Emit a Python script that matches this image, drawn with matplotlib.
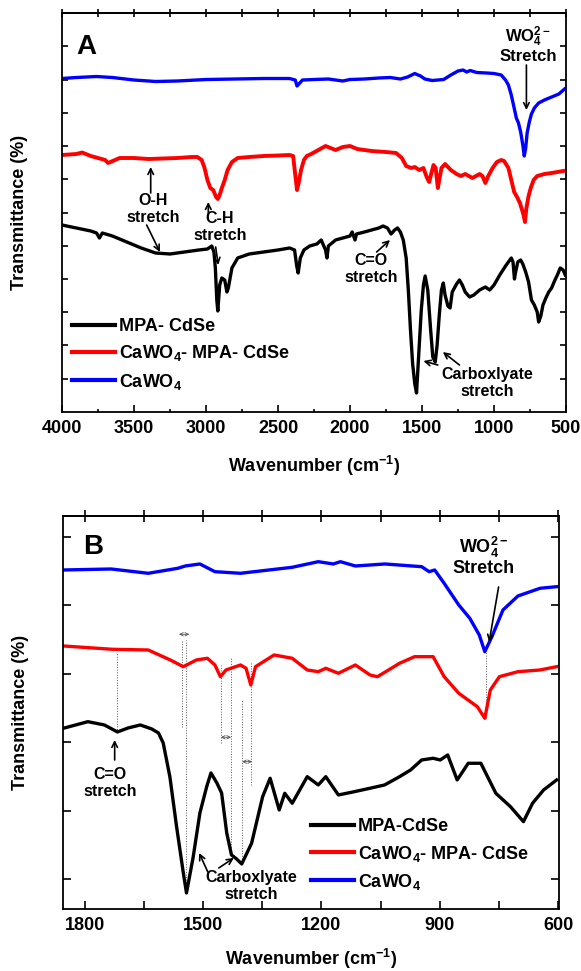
import numpy as np
import matplotlib.pyplot as plt
from matplotlib.ticker import MultipleLocator, NullFormatter

plt.rcParams['font.family'] = ['Liberation Sans', 'DejaVu Sans']
plt.rcParams['font.weight'] = 'bold'
plt.rcParams['axes.labelweight'] = 'bold'
plt.rcParams['mathtext.fontset'] = 'custom'
plt.rcParams['mathtext.rm'] = 'Liberation Sans:bold'
plt.rcParams['mathtext.bf'] = 'Liberation Sans:bold'
plt.rcParams['mathtext.it'] = 'Liberation Sans:bold'
plt.rcParams['mathtext.default'] = 'bf'
plt.rcParams['axes.linewidth'] = 1.3

# ---- panel A : 4000-500 cm-1 (transmittance, arb. units) ----
wn_a_blk = [4000, 3900, 3800, 3760, 3740, 3720, 3650, 3550, 3450, 3350, 3250, 3150, 3050, 2990, 2960,
            2945, 2935, 2925, 2918, 2905, 2890, 2870, 2855, 2845, 2820, 2780, 2700, 2600, 2500, 2420,
            2385, 2370, 2360, 2345, 2320, 2280, 2230, 2200, 2170, 2160, 2150, 2100, 2050, 2000, 1985,
            1965, 1955, 1900, 1850, 1800, 1770, 1740, 1715, 1690, 1670, 1650, 1630, 1610, 1595, 1580,
            1565, 1550, 1538, 1525, 1505, 1490, 1478, 1460, 1440, 1425, 1408, 1395, 1380, 1365, 1352,
            1340, 1320, 1305, 1290, 1260, 1240, 1220, 1200, 1170, 1140, 1100, 1060, 1030, 1000, 960,
            920, 900, 880, 868, 858, 850, 835, 815, 800, 780, 760, 740, 720, 700, 690,
            675, 660, 640, 620, 600, 580, 560, 540, 520, 505]
t_a_blk = [187, 184, 181, 179, 174, 179, 176, 170, 164, 159, 158, 160, 162, 163, 166,
           160, 144, 112, 101, 127, 134, 132, 120, 124, 144, 154, 158, 160, 162, 164,
           162, 146, 139, 154, 162, 166, 168, 172, 162, 154, 166, 172, 174, 176, 180,
           172, 178, 180, 182, 184, 186, 184, 178, 182, 184, 180, 172, 154, 122, 82,
           48, 28, 19, 52, 102, 127, 136, 122, 82, 55, 50, 67, 97, 122, 129,
           117, 106, 104, 120, 128, 132, 127, 120, 115, 117, 122, 125, 122, 127, 137,
           146, 150, 154, 150, 133, 140, 150, 152, 148, 140, 130, 112, 107, 100, 90,
           96, 107, 114, 120, 124, 131, 137, 144, 142, 137]

wn_a_red = [4000, 3900, 3860, 3800, 3700, 3680, 3600, 3500, 3400, 3300, 3200, 3100, 3060, 3030, 3010,
            2990, 2970, 2950, 2930, 2918, 2905, 2890, 2870, 2850, 2820, 2780, 2700, 2600, 2500, 2420,
            2395, 2380, 2368, 2355, 2340, 2320, 2300, 2270, 2220, 2170, 2100, 2050, 2000, 1950, 1900,
            1850, 1750, 1680, 1640, 1610, 1575, 1550, 1520, 1490, 1465, 1450, 1440, 1420, 1405, 1390,
            1380, 1365, 1340, 1300, 1260, 1230, 1200, 1150, 1100, 1080, 1060, 1040, 1010, 980, 950,
            930, 900, 880, 860, 840, 820, 805, 795, 785, 775, 760, 745, 725, 700, 650,
            600, 560, 520]
t_a_red = [257, 258, 259.5, 256, 252, 249, 254, 254, 253, 253.5, 254, 255, 255, 252, 244,
           232, 224, 222, 215, 213, 217, 224, 232, 242, 250, 254, 255, 256, 256.5, 257,
           256, 237, 222, 230, 242, 252, 256, 258, 262, 266, 262, 265, 266, 263, 262,
           261, 260, 259, 254, 246, 244, 245, 242, 244, 234, 230, 236, 247, 244, 224,
           232, 244, 248, 242, 238, 236, 238, 234, 238, 236, 229, 236, 244, 250, 252,
           251, 244, 232, 220, 215, 209, 202, 197, 190, 204, 216, 224, 232, 236, 238,
           239, 240, 241]

wn_a_blu = [4000, 3900, 3760, 3650, 3500, 3350, 3200, 3000, 2800, 2600, 2420, 2380, 2368, 2355, 2330,
            2250, 2150, 2050, 2000, 1900, 1800, 1720, 1650, 1600, 1550, 1535, 1510, 1480, 1430, 1350,
            1300, 1250, 1215, 1190, 1165, 1120, 1050, 1000, 950, 920, 900, 880, 860, 845, 830,
            815, 800, 790, 780, 770, 755, 740, 720, 690, 650, 600, 550, 510]
t_a_blu = [333.5, 334.5, 335.5, 334.5, 332, 330.5, 331, 332.5, 333, 333.5, 333.5, 332, 326, 328, 332,
           332.5, 333, 331, 332.5, 333, 334, 334.5, 333, 335, 338.5, 337.5, 336, 333, 331.5, 332.5,
           337, 341, 342, 340, 341.5, 339.5, 339, 338.5, 337, 332, 327, 317, 304, 294, 289,
           280, 267, 256, 264, 279, 290, 298, 304, 309, 312, 315, 318, 323]

# ---- panel B : 1855-600 cm-1 ----
wn_b_blk = [1854, 1792, 1750, 1717, 1690, 1659, 1630, 1613, 1601, 1584, 1567, 1550, 1542, 1525, 1508,
            1491, 1480, 1465, 1453, 1440, 1428, 1415, 1402, 1377, 1349, 1330, 1307, 1293, 1274, 1236,
            1208, 1189, 1157, 1120, 1077, 1040, 1002, 974, 946, 917, 899, 880, 856, 828, 796,
            758, 721, 688, 665, 637, 604]
t_b_blk = [180.7, 187.3, 184, 177, 181, 184, 180, 176, 166, 132, 82, 36, 16, 52, 96,
           122, 136, 126, 116, 76, 54, 50, 45, 65.7, 112.3, 130.7, 99, 115.7, 105.7, 132.3,
           124, 132.3, 114, 117, 120.7, 124, 132.3, 139, 149, 150.7, 149, 154, 129, 145.7, 145.7,
           115.7, 102.3, 87.3, 105.7, 119, 129]

wn_b_red = [1854, 1730, 1639, 1583, 1550, 1517, 1489, 1470, 1456, 1442, 1405, 1391, 1379, 1367, 1320,
            1274, 1236, 1208, 1189, 1157, 1114, 1077, 1058, 1002, 964, 917, 889, 852, 805, 786,
            772, 749, 702, 646, 604]
t_b_red = [263, 259.7, 259, 249, 242.3, 249, 250.7, 244, 232.3, 239, 244, 240.7, 224, 242.3, 254,
           250.7, 239, 237.3, 240.7, 235.7, 244, 234, 232.3, 245.7, 252.3, 252.3, 232.3, 215.7, 202.3, 190.7,
           219, 232.3, 237.3, 239, 242.3]

wn_b_blu = [1854, 1733, 1639, 1564, 1545, 1508, 1470, 1405, 1274, 1208, 1170, 1152, 1114, 1039, 946,
            927, 913, 889, 852, 824, 800, 786, 768, 740, 702, 646, 604]
t_b_blu = [339, 340, 335.7, 340.7, 343, 345, 337.3, 335.7, 341.7, 347.3, 345, 347.3, 343, 345, 342.3,
           337.3, 339, 325.7, 304, 290.7, 274, 257.3, 272.3, 299, 313, 320.7, 322.3]

labels_a = ['MPA- CdSe', 'CaWO$_4$- MPA- CdSe', 'CaWO$_4$']
labels_b = ['MPA-CdSe', 'CaWO$_4$- MPA- CdSe', 'CaWO$_4$']
colors = ['black', 'red', 'blue']

# peak guide lines in B: wavenumber, top, bottom
guide_wn = [1717, 1554, 1544, 1455, 1429, 1401, 1379, 784]
guide_top = [257, 269, 269, 244, 250.7, 209, 247.3, 257.3]
guide_bot = [177, 182.3, 16, 165.7, 54, 45, 124, 191]
# double arrows showing the shifts
shift_from = [1561, 1455, 1401]
shift_to = [1535, 1429, 1376]
shift_y = [274.7, 171.7, 147.3]

fig = plt.figure(figsize=(5.81, 9.71), dpi=100)
axA = fig.add_axes([0.1067, 0.5757, 0.8675, 0.4109])
axB = fig.add_axes([0.1084, 0.0639, 0.8537, 0.4047])

arr = dict(arrowstyle='->', lw=1.2, color='black', shrinkA=0, shrinkB=0)

# ---------------- A ----------------
axA.plot(wn_a_blk, t_a_blk, color=colors[0], lw=2.4, label=labels_a[0])
axA.plot(wn_a_red, t_a_red, color=colors[1], lw=2.8, label=labels_a[1])
axA.plot(wn_a_blu, t_a_blu, color=colors[2], lw=2.4, label=labels_a[2])
axA.set_xlim(4000, 500)
axA.set_ylim(0, 399)
axA.xaxis.set_major_locator(MultipleLocator(500))
axA.xaxis.set_minor_locator(MultipleLocator(250))
axA.set_yticks(np.arange(1, 12) * 33.25)
axA.yaxis.set_major_formatter(NullFormatter())
axA.tick_params(axis='x', which='major', direction='in', length=5, width=1.2, labelsize=13, pad=6)
axA.tick_params(axis='x', which='minor', direction='in', length=2.5, width=1.2)
axA.tick_params(axis='y', direction='in', length=4, width=1.2, right=True)
secA = axA.secondary_xaxis('top')
secA.xaxis.set_major_locator(MultipleLocator(250))
secA.tick_params(direction='inout', length=6, width=1.2, labeltop=False)
axA.set_xlabel('Wavenumber (cm$^{-1}$)', fontsize=13, labelpad=12)
axA.set_ylabel('Transmittance (%)', fontsize=13, labelpad=21)

axA.text(3830, 365, 'A', fontsize=20, ha='center', va='center')
axA.text(765, 368, 'WO$_4^{2-}$\nStretch', fontsize=12, ha='center', va='center', linespacing=1.0)
axA.annotate('', xy=(775, 302), xytext=(775, 347), arrowprops=arr)
axA.text(3370, 203, 'O-H\nstretch', fontsize=11.5, ha='center', va='center', linespacing=1.15)
axA.annotate('', xy=(3384, 245), xytext=(3384, 219), arrowprops=arr)
axA.annotate('', xy=(3320, 160), xytext=(3412, 187), arrowprops=arr)
axA.text(2903, 185, 'C-H\nstretch', fontsize=11.5, ha='center', va='center', linespacing=1.15)
axA.annotate('', xy=(2984, 210), xytext=(2984, 199), arrowprops=arr)
axA.annotate('', xy=(2915, 147), xytext=(2933, 165), arrowprops=arr)
axA.text(1854, 143, 'C=O\nstretch', fontsize=11.5, ha='center', va='center', linespacing=1.15)
axA.annotate('', xy=(1722, 172), xytext=(1815, 160), arrowprops=arr)
axA.text(1049, 29, 'Carboxlyate\nstretch', fontsize=11.5, ha='center', va='center', linespacing=1.15)
axA.annotate('', xy=(1490, 51), xytext=(1390, 47), arrowprops=arr)
axA.annotate('', xy=(1355, 60), xytext=(1240, 47), arrowprops=arr)
axA.legend(loc='center left', bbox_to_anchor=(0.02, 0.143), frameon=False, fontsize=13,
           handlelength=2.4, handletextpad=0.2, labelspacing=0.45, borderpad=0, borderaxespad=0)
for ln in axA.get_legend().get_lines():
    ln.set_linewidth(3)

# ---------------- B ----------------
for k in range(len(guide_wn)):
    axB.plot([guide_wn[k], guide_wn[k]], [guide_bot[k], guide_top[k]], color='0.35', lw=0.7, ls=':')
for k in range(len(shift_from)):
    axB.annotate('', xy=(shift_to[k], shift_y[k]), xytext=(shift_from[k], shift_y[k]),
                 arrowprops=dict(arrowstyle='<->', lw=0.6, color='0.3', shrinkA=0, shrinkB=0,
                                 mutation_scale=6))
axB.plot(wn_b_blk, t_b_blk, color=colors[0], lw=2.4, label=labels_b[0])
axB.plot(wn_b_red, t_b_red, color=colors[1], lw=2.4, label=labels_b[1])
axB.plot(wn_b_blu, t_b_blu, color=colors[2], lw=2.4, label=labels_b[2])
axB.set_xlim(1855, 598)
axB.set_ylim(0, 393)
axB.xaxis.set_major_locator(MultipleLocator(300))
axB.xaxis.set_minor_locator(MultipleLocator(150))
axB.set_yticks(30 + np.arange(6) * 68.4)
axB.yaxis.set_major_formatter(NullFormatter())
axB.tick_params(axis='x', which='both', direction='in', length=6, width=1.2, labelsize=13, pad=6)
axB.tick_params(axis='y', direction='in', length=6, width=1.2, right=True)
secB = axB.secondary_xaxis('top')
secB.xaxis.set_major_locator(MultipleLocator(150))
secB.tick_params(direction='inout', length=8, width=1.2, labeltop=False)
axB.set_xlabel('Wavenumber (cm$^{-1}$)', fontsize=13, labelpad=9)
axB.set_ylabel('Transmittance (%)', fontsize=13, labelpad=21)

axB.text(1778, 362, 'B', fontsize=20, ha='center', va='center')
axB.text(789, 353, 'WO$_4^{2-}$\nStretch', fontsize=13, ha='center', va='center', linespacing=1.0)
axB.annotate('', xy=(775, 267), xytext=(751, 322), arrowprops=arr)
axB.text(1736, 126, 'C=O\nstretch', fontsize=11.5, ha='center', va='center', linespacing=1.15)
axB.annotate('', xy=(1724, 169), xytext=(1724, 149), arrowprops=arr)
axB.text(1379, 23, 'Carboxlyate\nstretch', fontsize=11.5, ha='center', va='center', linespacing=1.15)
axB.annotate('', xy=(1510, 56), xytext=(1488, 37), arrowprops=arr)
axB.annotate('', xy=(1422, 51), xytext=(1460, 41), arrowprops=arr)
axB.legend(loc='center left', bbox_to_anchor=(0.50, 0.137), frameon=False, fontsize=13,
           handlelength=2.4, handletextpad=0.2, labelspacing=0.45, borderpad=0, borderaxespad=0)
for ln in axB.get_legend().get_lines():
    ln.set_linewidth(3)

fig.savefig('out.png', dpi=100)
